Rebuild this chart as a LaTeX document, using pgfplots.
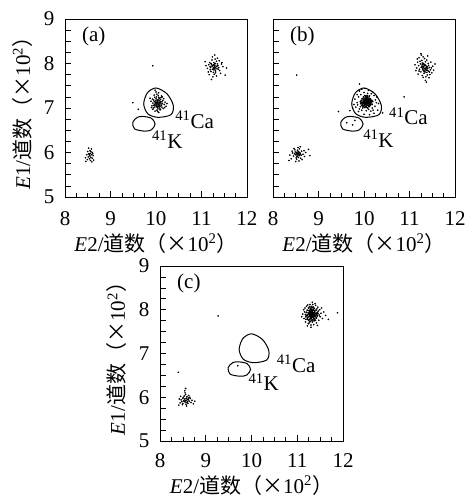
\documentclass[border=0pt]{standalone}
\usepackage{fontspec}
\setmainfont{Liberation Serif}
\newfontfamily\cjk{Noto Sans CJK SC}
\usepackage{pgfplots}
\pgfplotsset{compat=1.18}
\newcommand\lf{\fontsize{21}{23}\selectfont}
\newcommand\xlab{\textit{E}2/{\cjk 道数}{\cjk （×}10\textsuperscript{2}{\cjk ）}}
\newcommand\ylab{\textit{E}1/{\cjk 道数}{\cjk （×}10\textsuperscript{2}{\cjk ）}}
\pgfplotsset{
  panel/.style={
    scale only axis, width=182pt, height=178pt,
    xmin=8, xmax=12, ymin=5, ymax=9,
    xtick={8,9,10,11,12}, minor x tick num=3,
    ytick={5,5.25,5.5,5.75,6,6.25,6.5,6.75,7,7.25,7.5,7.75,8,8.25,8.5,8.75,9},
    yticklabels={5,,,,6,,,,7,,,,8,,,,9},
    tick align=inside, xtick pos=left, ytick pos=left,
    major tick length=5.5pt, minor tick length=3.5pt,
    axis line style={line width=0.8pt}, tick style={line width=0.7pt, black},
    ticklabel style={font=\lf},
    /pgf/number format/assume math mode=true,
    xticklabel style={anchor=base, yshift=-29pt},
    yticklabel style={anchor=east, xshift=-7pt},
    xlabel={\xlab}, xlabel style={font=\lf, at={(axis description cs:0.5,-0.26)}, anchor=center},
    ylabel style={font=\lf, at={(axis description cs:-0.235,0.5)}, anchor=center},
  },
  dots/.style={only marks, mark=*, mark size=0.6pt, black},
  core/.style={only marks, mark=*, mark size=0.75pt, black},
  gate/.style={no markers, black, line width=1pt, smooth cycle},
}
\newcommand\gates{%
  \addplot[gate] coordinates {(10.00,7.45) (10.24,7.32) (10.38,7.06) (10.33,6.85)
    (10.04,6.79) (9.82,6.87) (9.73,7.09) (9.81,7.34)};
  \addplot[gate] coordinates {(9.49,6.68) (9.59,6.79) (9.71,6.81) (9.90,6.77)
    (9.98,6.64) (9.90,6.51) (9.75,6.48) (9.53,6.53)};
}
\begin{document}
\begin{tikzpicture}
\path[use as bounding box] (0,0) rectangle (467pt,502pt);

% (a)
\begin{axis}[panel, at={(65pt,305pt)}, anchor=south west, ylabel={\ylab}]
\gates
\addplot[dots] coordinates {
(8.52,6.10) (8.58,6.08) (8.55,6.04) (8.50,6.02) (8.60,6.00) (8.56,5.98) (8.53,5.97)
(8.48,5.95) (8.58,5.95) (8.62,5.93) (8.55,5.92) (8.51,5.90) (8.57,5.89) (8.45,5.88)
(8.60,5.87) (8.54,5.86) (8.49,5.84) (8.63,5.83) (8.56,5.82) (8.46,5.80) (8.59,5.79)
(8.52,5.97) (8.57,6.02) (8.54,5.94) (8.61,5.97)};
\addplot[dots] coordinates {
(11.28,7.92) (11.25,7.95) (11.31,7.90) (11.22,7.98) (11.34,7.88) (11.27,8.02) (11.30,7.85)
(11.19,7.93) (11.36,7.96) (11.24,7.87) (11.29,7.99) (11.33,8.05) (11.21,7.82) (11.26,7.90)
(11.38,7.91) (11.16,7.97) (11.31,7.79) (11.23,8.08) (11.40,7.84) (11.28,7.76) (11.18,8.02)
(11.35,8.12) (11.13,7.89) (11.44,7.99) (11.25,7.70) (11.32,7.94) (11.27,7.86) (11.30,8.00)
(11.20,7.91) (11.37,7.87) (11.24,8.15) (11.42,7.78) (11.15,7.81) (11.29,8.19) (11.47,7.93)
(11.10,7.95) (11.33,7.72) (11.22,7.64) (11.39,8.06) (11.26,7.97) (11.31,7.83) (11.19,7.86)
(11.35,7.99) (11.28,7.89) (11.23,7.94) (11.52,7.74) (11.08,8.04) (11.30,8.10) (11.45,8.02)
(11.17,7.75) (11.26,7.80) (11.34,7.93) (11.29,7.95) (11.21,8.00) (11.55,7.90)};
\addplot[dots] coordinates {
(10.04,7.10) (10.01,7.13) (10.07,7.07) (9.98,7.09) (10.10,7.12) (10.03,7.16) (10.06,7.03)
(9.96,7.14) (10.12,7.06) (10.00,7.05) (10.05,7.19) (10.09,7.15) (9.97,7.02) (10.02,7.08)
(10.14,7.10) (9.93,7.11) (10.08,7.00) (10.00,7.21) (10.15,7.17) (10.04,6.98) (9.95,7.18)
(10.11,7.23) (9.91,7.05) (10.18,7.08) (10.02,6.95) (10.06,7.12) (10.03,7.04) (10.07,7.17)
(9.99,7.12) (10.13,7.02) (10.01,7.25) (10.16,6.99) (9.94,7.00) (10.05,7.28) (10.20,7.13)
(9.89,7.15) (10.09,6.96) (9.98,6.93) (10.12,7.27) (10.04,7.14) (10.08,7.06) (9.97,7.07)
(10.10,7.19) (10.03,7.01) (9.99,7.16) (10.22,7.04) (9.87,7.22) (10.06,7.24) (10.17,7.21)
(9.93,6.97) (10.02,7.31) (10.00,7.36) (9.98,7.40) (10.06,7.34) (9.96,7.29) (10.11,7.09)
(10.05,7.07) (10.00,7.10) (10.08,7.11) (10.02,7.18) (9.95,7.06) (10.13,7.14) (10.07,7.22)
(9.92,7.20) (10.19,7.01) (10.04,6.92) (10.10,6.97) (9.90,7.01) (10.24,7.10) (10.01,7.03)
(10.14,7.25) (9.97,7.24) (10.06,6.90) (10.09,7.04) (10.03,7.12)
(9.93,7.95) (9.49,7.12) (9.61,6.97)};
\node[anchor=north west, inner sep=0, font=\lf] at (rel axis cs:0.093,0.955) {(a)};
\node[anchor=base west, inner sep=0, font=\lf] at (axis cs:10.42,6.55) {\textsuperscript{41}Ca};
\node[anchor=base west, inner sep=0, font=\lf] at (axis cs:9.91,6.10) {\textsuperscript{41}K};
\end{axis}

% (b)
\begin{axis}[panel, at={(273pt,305pt)}, anchor=south west, yticklabels={}]
\gates
\addplot[dots] coordinates {
(8.55,5.96) (8.52,5.99) (8.58,5.93) (8.50,5.95) (8.56,6.02) (8.60,5.97) (8.53,5.91)
(8.57,5.98) (8.49,6.01) (8.62,5.94) (8.54,6.05) (8.51,5.88) (8.59,6.00) (8.47,5.97)
(8.56,5.89) (8.63,6.03) (8.45,5.92) (8.58,6.08) (8.52,5.85) (8.66,5.96) (8.48,6.06)
(8.61,5.87) (8.43,5.99) (8.55,6.11) (8.69,5.91) (8.40,5.86) (8.57,5.81) (8.72,6.00)
(8.46,6.09) (8.64,5.84) (8.37,5.94) (8.53,5.94) (8.56,5.95) (8.54,5.98) (8.59,5.95)
(8.51,5.97) (8.78,6.07) (8.35,5.82) (8.60,6.13) (8.50,5.80) (8.68,6.04) (8.42,6.03)
(8.57,6.00) (8.53,6.01) (8.81,5.93)};
\addplot[dots] coordinates {
(11.34,7.89) (11.30,7.93) (11.37,7.85) (11.28,7.97) (11.40,7.88) (11.33,7.82) (11.26,7.91)
(11.36,7.95) (11.31,8.00) (11.42,7.83) (11.29,7.86) (11.38,7.80) (11.24,7.99) (11.35,8.04)
(11.44,7.91) (11.22,7.87) (11.32,7.78) (11.27,8.07) (11.46,7.86) (11.39,7.74) (11.20,7.95)
(11.33,8.11) (11.49,7.79) (11.25,7.81) (11.41,8.00) (11.18,8.03) (11.36,7.70) (11.30,8.15)
(11.51,7.94) (11.16,7.90) (11.43,7.68) (11.28,7.73) (11.38,8.08) (11.21,8.13) (11.47,8.03)
(11.14,7.84) (11.35,7.62) (11.26,8.19) (11.53,7.85) (11.19,7.76) (11.40,8.17) (11.32,7.88)
(11.35,7.86) (11.31,7.91) (11.37,7.91) (11.33,7.95) (11.29,7.90) (11.39,7.84) (11.34,7.81)
(11.27,7.94) (11.36,7.89) (11.31,7.84) (11.56,7.99) (11.12,7.97) (11.45,7.75) (11.23,8.05)
(11.48,7.90) (11.17,8.10) (11.42,7.96) (11.30,7.69) (11.37,7.58) (11.25,8.22) (11.34,7.98)
(11.38,7.93) (11.32,7.83) (11.28,8.01) (11.44,7.81) (11.21,7.83) (11.40,7.92) (11.30,7.97)};
\addplot[core] coordinates {
(10.02,7.01) (10.08,7.00) (10.11,7.03) (9.98,7.03) (10.05,7.02)
(9.95,7.06) (10.00,7.05) (10.04,7.04) (10.07,7.06) (10.10,7.05) (10.14,7.07) (10.02,7.07) (10.12,7.04)
(9.93,7.10) (9.97,7.08) (10.01,7.09) (10.03,7.11) (10.06,7.08) (10.09,7.10) (10.11,7.09) (10.15,7.11)
(10.18,7.08) (9.99,7.11) (10.05,7.10) (10.13,7.08)
(9.92,7.14) (9.96,7.13) (9.99,7.15) (10.02,7.12) (10.04,7.14) (10.06,7.13) (10.08,7.15) (10.10,7.12)
(10.12,7.14) (10.16,7.13) (10.19,7.15) (10.01,7.15) (10.07,7.12) (10.14,7.15) (9.94,7.12)
(9.94,7.17) (9.98,7.18) (10.00,7.16) (10.03,7.19) (10.05,7.17) (10.07,7.16) (10.09,7.18) (10.11,7.16)
(10.13,7.19) (10.17,7.17) (10.02,7.16) (10.06,7.19) (10.15,7.16)
(9.96,7.21) (10.00,7.22) (10.03,7.20) (10.06,7.23) (10.08,7.21) (10.11,7.22) (10.14,7.20) (10.04,7.22) (10.10,7.20)
(9.99,7.25) (10.04,7.26) (10.08,7.25) (10.12,7.27) (10.02,7.28) (10.07,7.28)
(10.04,7.13) (10.07,7.14) (10.05,7.15) (10.03,7.17) (10.08,7.12) (10.06,7.11) (10.09,7.14) (10.02,7.10)
(10.05,7.12) (10.10,7.17) (10.00,7.13) (10.06,7.16) (10.04,7.09) (10.08,7.19) (10.01,7.18) (10.11,7.13)
(9.97,7.11) (10.13,7.11)};
\addplot[dots] coordinates {
(9.80,7.20) (9.85,7.30) (9.90,7.38) (9.95,7.42) (10.02,7.44) (10.10,7.40) (10.20,7.35) (10.28,7.25)
(10.32,7.10) (10.30,6.95) (10.22,6.88) (10.12,6.85) (10.00,6.86) (9.88,6.92) (9.82,7.02) (9.85,7.12)
(9.88,7.25) (9.92,7.03) (9.90,6.98) (10.25,7.18) (10.22,7.28) (10.18,7.00) (10.24,7.04) (10.15,6.93)
(10.05,6.94) (9.95,6.95) (10.16,7.32) (9.93,7.30) (10.00,7.35) (10.08,7.33) (9.86,7.07) (10.27,7.12)
(10.20,6.95) (10.10,6.97) (9.97,7.00) (9.78,7.08) (9.75,7.00)
(9.90,7.54) (9.44,6.92) (9.69,6.94) (10.41,6.89) (10.88,7.25) (8.52,7.74)
(9.62,6.67) (9.75,6.62) (9.80,6.72)};
\node[anchor=north west, inner sep=0, font=\lf] at (rel axis cs:0.093,0.955) {(b)};
\node[anchor=base west, inner sep=0, font=\lf] at (axis cs:10.55,6.62) {\textsuperscript{41}Ca};
\node[anchor=base west, inner sep=0, font=\lf] at (axis cs:9.98,6.12) {\textsuperscript{41}K};
\end{axis}

% (c)
\begin{axis}[panel, at={(160pt,61pt)}, anchor=south west, width=183pt, height=175pt,
  ylabel={\ylab}, xticklabel style={yshift=2pt}, xlabel style={at={(axis description cs:0.5,-0.252)}}]
\gates
\addplot[dots] coordinates {
(8.57,5.93) (8.54,5.96) (8.60,5.90) (8.52,5.92) (8.58,5.98) (8.62,5.94) (8.55,5.89) (8.50,5.97)
(8.59,6.01) (8.64,5.91) (8.53,6.03) (8.48,5.90) (8.61,5.86) (8.56,6.06) (8.66,5.97) (8.46,5.94)
(8.57,5.84) (8.51,6.00) (8.68,5.88) (8.44,5.87) (8.55,6.10) (8.63,6.04) (8.49,5.83) (8.70,5.93)
(8.42,5.96) (8.58,5.80) (8.54,6.15) (8.56,6.20) (8.73,5.85) (8.45,6.02) (8.60,5.95) (8.53,5.91)
(8.57,5.97) (8.65,6.00) (8.50,5.86) (8.76,5.91) (8.41,5.82) (8.59,5.88) (8.55,5.92) (8.62,5.98)};
\addplot[core] coordinates {
(11.28,7.73) (11.33,7.72) (11.37,7.75) (11.25,7.76) (11.31,7.76)
(11.22,7.79) (11.27,7.78) (11.30,7.80) (11.34,7.77) (11.38,7.79) (11.42,7.81) (11.29,7.81) (11.36,7.81)
(11.19,7.84) (11.23,7.82) (11.26,7.85) (11.29,7.83) (11.32,7.84) (11.35,7.82) (11.38,7.85) (11.41,7.83)
(11.44,7.86) (11.30,7.86) (11.34,7.86) (11.21,7.86)
(11.18,7.89) (11.22,7.88) (11.25,7.90) (11.28,7.87) (11.31,7.89) (11.33,7.88) (11.36,7.90) (11.39,7.87)
(11.42,7.89) (11.45,7.91) (11.27,7.91) (11.34,7.91) (11.30,7.91) (11.37,7.88)
(11.20,7.94) (11.24,7.93) (11.27,7.95) (11.30,7.92) (11.32,7.94) (11.35,7.93) (11.38,7.95) (11.41,7.92)
(11.44,7.94) (11.29,7.96) (11.33,7.96) (11.26,7.92)
(11.22,7.99) (11.26,7.98) (11.29,8.00) (11.32,7.98) (11.35,8.00) (11.38,7.97) (11.41,7.99) (11.31,8.01) (11.28,7.97)
(11.25,8.04) (11.29,8.03) (11.33,8.05) (11.37,8.03) (11.31,8.07) (11.27,8.07) (11.35,8.06)
(11.31,7.90) (11.33,7.87) (11.29,7.89) (11.32,7.92) (11.35,7.89) (11.30,7.94) (11.34,7.84) (11.28,7.85)
(11.36,7.92) (11.31,7.82) (11.33,7.98) (11.27,7.88) (11.38,7.91) (11.32,7.86)};
\addplot[dots] coordinates {
(11.12,7.90) (11.15,7.80) (11.14,8.00) (11.18,7.72) (11.20,8.08) (11.24,7.68) (11.30,7.65) (11.36,7.66)
(11.42,7.70) (11.47,7.76) (11.50,7.84) (11.52,7.92) (11.49,8.00) (11.45,8.06) (11.40,8.10) (11.34,8.12)
(11.28,8.12) (11.23,8.11) (11.17,8.04) (11.16,7.95) (11.46,7.97) (11.48,7.88) (11.43,8.02) (11.19,7.78)
(11.40,7.76) (11.26,7.70) (11.39,8.14) (11.55,7.80) (11.58,7.95) (11.62,7.87) (11.10,7.84) (11.33,8.17)
(11.44,7.64) (11.22,7.63) (11.53,8.04) (11.30,7.60)
(11.88,7.93) (11.68,7.78) (9.27,7.86) (8.40,6.57) (9.70,6.72)};
\node[anchor=north west, inner sep=0, font=\lf] at (rel axis cs:0.093,0.955) {(c)};
\node[anchor=base west, inner sep=0, font=\lf] at (axis cs:10.55,6.57) {\textsuperscript{41}Ca};
\node[anchor=base west, inner sep=0, font=\lf] at (axis cs:9.93,6.15) {\textsuperscript{41}K};
\end{axis}
\end{tikzpicture}
\end{document}
